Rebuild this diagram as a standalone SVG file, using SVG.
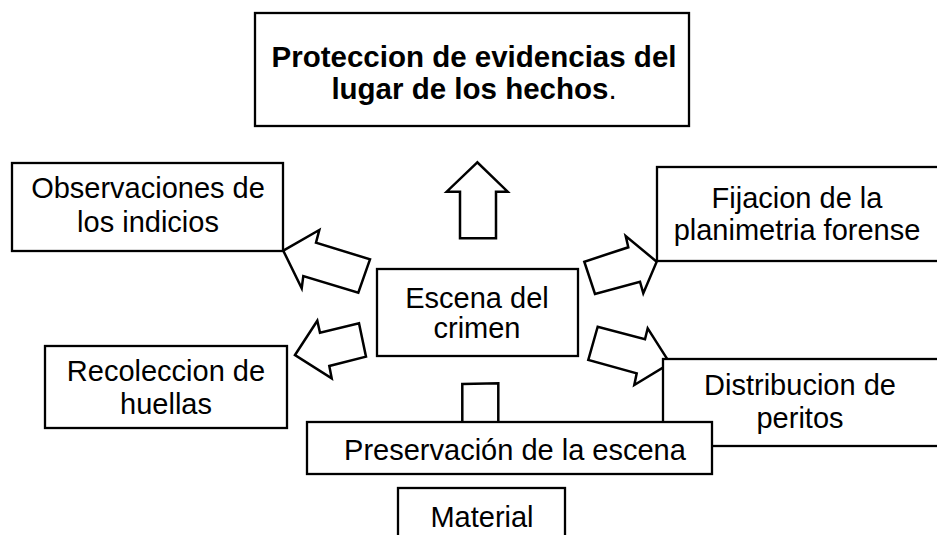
<svg xmlns="http://www.w3.org/2000/svg" width="937" height="535" viewBox="0 0 937 535">
<style>
.box{fill:#fff;stroke:#000;stroke-width:2.3}
.arr{fill:#fff;stroke:#000;stroke-width:2.5;stroke-linejoin:miter}
text{font-family:"Liberation Sans",Arial,sans-serif;font-size:29px;fill:#000;text-anchor:middle}
.b{font-weight:bold;font-size:29.5px}
</style>
<rect width="937" height="535" fill="#fff"/>
<g id="connectors">
<polygon class="arr" points="477.3,162.3 446.7,191.7 460,191.7 460,238.3 496,238.3 496,191.7 507.7,191.7"/>
<polygon class="arr" points="283.3,250.7 319.3,230 316,242.7 370,259.3 358.3,292.7 303.3,276 301.7,288.3"/>
<polygon class="arr" points="295,355 317.3,320.7 320,332.7 359,323.3 366,356.7 329.3,366 331.7,378.3"/>
<polygon class="arr" points="656.7,261.7 625.7,236 628.3,247.3 584.3,261.7 595,294 640,281.7 643.3,293.3"/>
<polygon class="arr" points="670,363.3 647.7,328.3 645,339.3 597.7,326.7 588.3,360 636.7,373.3 634.3,385"/>
<polygon class="arr" points="462.3,384 498.3,383.3 498.3,423 462.3,423"/>
</g>
<g id="n-proteccion">
<rect class="box" x="255" y="13" width="434" height="113"/>
<text class="b" x="474" y="67">Proteccion de evidencias del</text>
<text class="b" x="474" y="99">lugar de los hechos<tspan font-weight="normal">.</tspan></text>
</g>
<g id="n-observaciones">
<rect class="box" x="12" y="163" width="271" height="88"/>
<text x="148" y="198">Observaciones de</text>
<text x="148" y="232">los indicios</text>
</g>
<g id="n-fijacion">
<rect class="box" x="657" y="167" width="290" height="94"/>
<text x="797" y="208">Fijacion de la</text>
<text x="797" y="240">planimetria forense</text>
</g>
<g id="n-escena">
<rect class="box" x="377" y="269" width="201" height="87"/>
<text x="477" y="308">Escena del</text>
<text x="477" y="338">crimen</text>
</g>
<g id="n-recoleccion">
<rect class="box" x="45" y="346" width="242" height="82"/>
<text x="166" y="381">Recoleccion de</text>
<text x="166" y="414">huellas</text>
</g>
<g id="n-distribucion">
<rect class="box" x="663" y="359" width="290" height="87"/>
<text x="800" y="395">Distribucion de</text>
<text x="800" y="428">peritos</text>
</g>
<g id="n-preservacion">
<rect class="box" x="307" y="422" width="405" height="52"/>
<text x="515" y="460">Preservación de la escena</text>
</g>
<g id="n-material">
<rect class="box" x="398" y="488" width="167" height="60"/>
<text x="482" y="527">Material</text>
</g>
</svg>
